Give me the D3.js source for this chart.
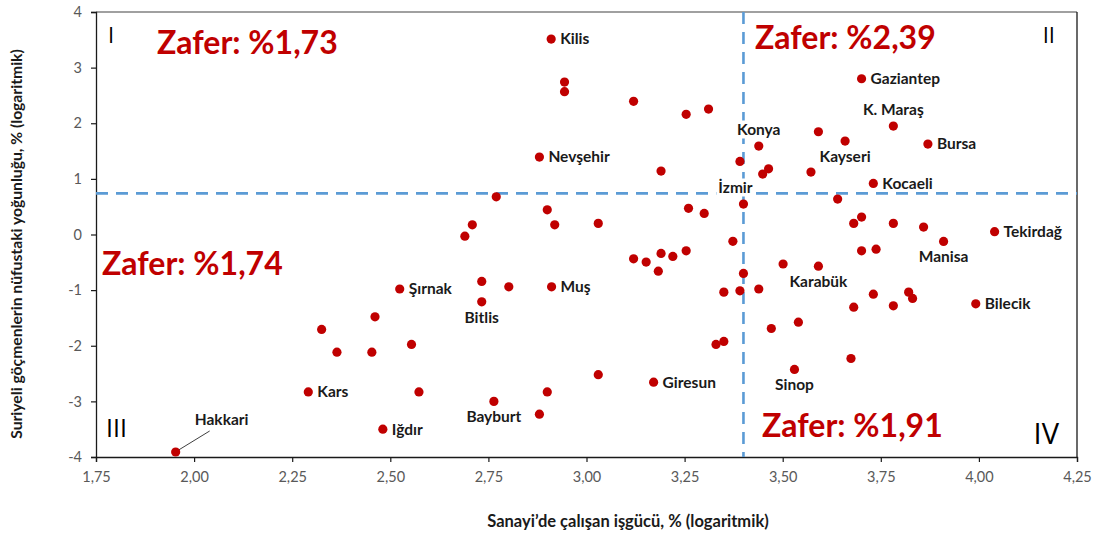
<!DOCTYPE html>
<html>
<head>
<meta charset="utf-8">
<title>Sanayi ve Suriyeli göçmen yoğunluğu</title>
<style>
  body { margin: 0; background: #fff; }
  svg { display: block; }
</style>
</head>
<body>
<script src="https://d3js.org/d3.v7.min.js"></script>
<script>
// il adları (boş = etiketsiz), x: sanayi işgücü (log), y: Suriyeli yoğunluğu (log)
const provinces = ["Kilis","","","","","","Nevşehir","","","","","","","","","","","","","","","","",
  "Gaziantep","K. Maraş","Konya","","Kayseri","Bursa","","","","","Kocaeli","İzmir","","","","","",
  "Tekirdağ","Manisa","","","","Karabük","","","","","","","","","Bilecik","","","","Sinop","","","",
  "Şırnak","","","Muş","Bitlis","","","","","Bayburt","","","","Giresun","Iğdır","","","Kars","Hakkari"];
const industry = [2.910,2.944,2.944,3.120,3.254,3.311,2.880,3.190,2.770,2.900,2.709,2.690,2.919,3.030,3.260,3.300,3.373,3.120,3.152,3.190,3.220,3.254,3.183,
  3.701,3.782,3.439,3.591,3.659,3.870,3.391,3.449,3.464,3.572,3.731,3.400,3.640,3.701,3.681,3.782,3.859,
  4.040,3.910,3.701,3.738,3.501,3.591,3.400,3.391,3.439,3.731,3.821,3.831,3.681,3.782,3.992,3.471,3.540,3.674,3.530,3.350,3.330,3.350,
  2.524,2.733,2.802,2.911,2.733,2.461,2.453,2.554,2.573,2.764,2.900,2.880,3.030,3.171,2.481,2.325,2.364,2.291,1.953];
const refugees = [3.514,2.741,2.567,2.394,2.160,2.255,1.392,1.140,0.678,0.444,0.174,-0.030,0.174,0.200,0.470,0.378,-0.122,-0.437,-0.496,-0.340,-0.395,-0.294,-0.660,
  2.800,1.950,1.590,1.847,1.680,1.626,1.314,1.086,1.180,1.122,0.919,0.547,0.637,0.313,0.200,0.200,0.133,
  0.050,-0.124,-0.294,-0.263,-0.530,-0.570,-0.700,-1.013,-0.980,-1.072,-1.036,-1.150,-1.306,-1.283,-1.247,-1.690,-1.576,-2.229,-2.426,-1.036,-1.977,-1.923,
  -0.980,-0.844,-0.940,-0.940,-1.210,-1.480,-2.115,-1.977,-2.830,-3.000,-2.830,-3.230,-2.520,-2.655,-3.500,-1.707,-2.115,-2.830,-3.910];
// etiketin noktaya göre yeri: r sağ, t üst, b alt, h kılavuz çizgili
const labelSide = {"Kilis":"r","Nevşehir":"r","Gaziantep":"r","K. Maraş":"t","Konya":"t","Kayseri":"b","Bursa":"r",
  "Kocaeli":"r","İzmir":"t","Tekirdağ":"r","Manisa":"b","Karabük":"b","Bilecik":"r","Sinop":"b","Şırnak":"r",
  "Muş":"r","Bitlis":"b","Bayburt":"b","Giresun":"r","Iğdır":"r","Kars":"r","Hakkari":"h"};

const xTicks = [1.75,2.00,2.25,2.50,2.75,3.00,3.25,3.50,3.75,4.00,4.25];
const yTicks = [-4,-3,-2,-1,0,1,2,3,4];
const xCut = 3.40;   // dikey ortalama çizgisi
const yCut = 0.74;   // yatay ortalama çizgisi
const quadrants = ["I","II","III","IV"];
const successRates = ["%1,73","%2,39","%1,74","%1,91"];

const width = 1097, height = 536;
const margin = {top: 12, right: 20, bottom: 79, left: 96};
const pw = width - margin.left - margin.right;
const ph = height - margin.top - margin.bottom;

const x = d3.scaleLinear().domain([1.75, 4.25]).range([0, pw]);
const y = d3.scaleLinear().domain([-4, 4]).range([ph, 0]);
const comma = d => d3.format(".2f")(d).replace(".", ",");

const svg = d3.select("body").append("svg")
  .attr("width", width).attr("height", height)
  .style("font-family", "Lato, 'Open Sans', sans-serif");

const g = svg.append("g").attr("transform", "translate(" + margin.left + "," + margin.top + ")");

// çerçeve: üst ve sağ
g.append("line").attr("x1", 0).attr("x2", pw).attr("y1", 0).attr("y2", 0)
  .attr("stroke", "#808080").attr("stroke-width", 1.3);
g.append("line").attr("x1", pw).attr("x2", pw).attr("y1", 0).attr("y2", ph)
  .attr("stroke", "#1a1a1a").attr("stroke-width", 1.3);

// eksenler
const xAxis = g.append("g").attr("transform", "translate(0," + ph + ")")
  .call(d3.axisBottom(x).tickValues(xTicks).tickFormat(comma).tickSizeOuter(0).tickSize(5).tickPadding(10));
const yAxis = g.append("g")
  .call(d3.axisLeft(y).tickValues(yTicks).tickFormat(d3.format("d")).tickSizeOuter(0).tickSize(5).tickPadding(9));
[xAxis, yAxis].forEach(a => {
  a.select(".domain").attr("stroke", "#1a1a1a").attr("stroke-width", 1.3);
  a.selectAll(".tick line").attr("stroke", "#1a1a1a").attr("stroke-width", 1.2);
  a.selectAll("text").attr("fill", "#595959").style("font-size", "14.5px").style("font-family", "Lato, sans-serif");
});
yAxis.selectAll("text").text(d => d < 0 ? "-" + Math.abs(d) : d);

// ortalama çizgileri
g.append("line").attr("x1", x(xCut)).attr("x2", x(xCut)).attr("y1", 0).attr("y2", ph)
  .attr("stroke", "#5b9bd5").attr("stroke-width", 2.6).attr("stroke-dasharray", "12,8");
g.append("line").attr("x1", 0).attr("x2", pw).attr("y1", y(yCut)).attr("y2", y(yCut))
  .attr("stroke", "#5b9bd5").attr("stroke-width", 2.6).attr("stroke-dasharray", "12,8");

// eksen başlıkları
svg.append("text")
  .attr("x", 628).attr("y", 527)
  .attr("text-anchor", "middle")
  .style("font-size", "16.5px").style("font-weight", "bold").attr("fill", "#1a1a1a")
  .text("Sanayi’de çalışan işgücü, % (logaritmik)");
svg.append("text")
  .attr("transform", "translate(22,244) rotate(-90)")
  .attr("text-anchor", "middle")
  .style("font-size", "15.7px").style("font-weight", "bold").attr("fill", "#1a1a1a")
  .text("Suriyeli göçmenlerin nüfustaki yoğunluğu, % (logaritmik)");

// bölge numaraları ve başarı oranları
const quadPos = [
  {x: 12, y: 31, size: 22, anchor: "start"},
  {x: pw - 22, y: 31, size: 22, anchor: "end"},
  {x: 10, y: 425, size: 25, anchor: "start"},
  {x: pw - 18, y: 432, size: 29, anchor: "end"}
];
g.selectAll(".quad").data(quadrants).enter().append("text")
  .attr("class", "quad")
  .attr("x", (d, i) => quadPos[i].x).attr("y", (d, i) => quadPos[i].y)
  .attr("text-anchor", (d, i) => quadPos[i].anchor)
  .style("font-size", (d, i) => quadPos[i].size + "px")
  .style("font-family", "'Open Sans', sans-serif")
  .attr("fill", "#000")
  .text(d => d);

const ratePos = [{x: 61, y: 42}, {x: 659, y: 37}, {x: 6, y: 263}, {x: 666, y: 425}];
g.selectAll(".rate").data(successRates).enter().append("text")
  .attr("class", "rate")
  .attr("x", (d, i) => ratePos[i].x).attr("y", (d, i) => ratePos[i].y)
  .style("font-size", "32px").style("font-weight", "bold")
  .attr("fill", "#c00000")
  .text(d => "Zafer: " + d);

// veri
const data = provinces.map((p, i) => ({name: p, x: industry[i], y: refugees[i]}));

// etiketler (beyaz zeminli)
const labeled = data.filter(d => d.name !== "");
const lab = g.selectAll(".lab").data(labeled).enter().append("g").attr("class", "lab");
lab.each(function(d) {
  const side = labelSide[d.name];
  const px = x(d.x), py = y(d.y);
  let tx = px, ty = py, anchor = "middle";
  if (side === "r") { tx = px + 9; anchor = "start"; }
  if (side === "t") { ty = py - 16; if (d.name === "İzmir") tx = px - 8; }
  if (side === "b") { ty = py + 15.5; }
  if (side === "h") { tx = px + 46; ty = py - 32; }
  const sel = d3.select(this);
  if (side === "h") {
    sel.append("line").attr("x1", px + 3).attr("y1", py - 2).attr("x2", px + 34).attr("y2", py - 21)
      .attr("stroke", "#404040").attr("stroke-width", 1);
  }
  const t = sel.append("text")
    .attr("x", tx).attr("y", ty).attr("dy", "0.35em")
    .attr("text-anchor", anchor)
    .style("font-size", "15.5px").style("font-weight", "bold").attr("fill", "#1a1a1a")
    .text(d.name);
  const b = t.node().getBBox();
  sel.insert("rect", "text")
    .attr("x", b.x - 2).attr("y", b.y).attr("width", b.width + 4).attr("height", b.height)
    .attr("fill", "#fff");
});

// noktalar
g.selectAll(".dot").data(data).enter().append("circle")
  .attr("class", "dot")
  .attr("cx", d => x(d.x)).attr("cy", d => y(d.y))
  .attr("r", 4.6)
  .attr("fill", "#c00000");
</script>
</body>
</html>
